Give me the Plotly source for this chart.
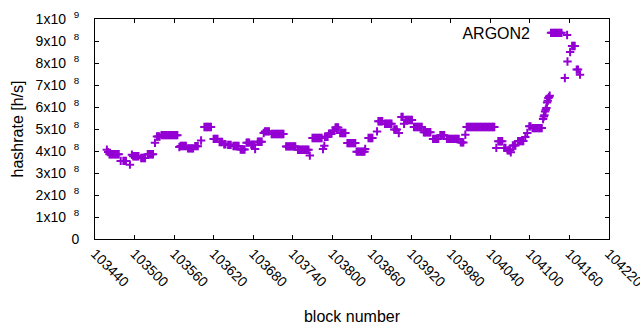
import plotly.graph_objects as go

# block numbers and hashrate (units of 1e8 h/s)
blocks = [
    103458, 103460,
    103462, 103464, 103466, 103468, 103470, 103472, 103474, 103476,
    103479, 103483, 103485, 103487, 103493, 103496,
    103498, 103500, 103502, 103504, 103506,
    103510, 103512, 103514, 103516,
    103520, 103522, 103524, 103526, 103528,
    103531, 103534, 103536, 103538,
    103541, 103543, 103545, 103547, 103549, 103551, 103553, 103555, 103557, 103559, 103561, 103563, 103565,
    103568, 103570, 103572, 103574, 103576, 103578,
    103581, 103583, 103585, 103587, 103589,
    103592, 103594, 103596, 103601,
    103606, 103608, 103610, 103612, 103614, 103616,
    103620, 103622, 103624, 103626,
    103629, 103631, 103633, 103636, 103638,
    103642, 103644, 103646,
    103650, 103652, 103654, 103656, 103658,
    103661, 103663, 103665, 103667,
    103670, 103672, 103674,
    103677, 103679, 103681, 103683,
    103687, 103689, 103691, 103693,
    103696, 103698, 103700, 103702, 103704,
    103708, 103710, 103712, 103714, 103716, 103718, 103720, 103722, 103724, 103726,
    103730, 103732, 103734, 103736, 103738, 103740, 103742, 103744,
    103748, 103750, 103752, 103754, 103756, 103758, 103760, 103762, 103764, 103766,
    103770, 103772, 103774, 103776, 103778, 103780, 103782, 103784,
    103786, 103788, 103789, 103791, 103793,
    103795, 103797, 103799, 103801, 103803,
    103805, 103807, 103809,
    103812, 103814, 103816, 103818, 103820,
    103823, 103825, 103827, 103829, 103831, 103833, 103835,
    103837, 103839, 103841, 103843, 103845, 103847, 103849,
    103850, 103855, 103857, 103859, 103861, 103868,
    103870, 103872, 103874, 103876,
    103880, 103882, 103884, 103886, 103888, 103890,
    103894, 103896, 103898, 103901,
    103905, 103907, 103909,
    103911, 103913, 103915, 103917, 103919, 103921,
    103924, 103926, 103928, 103930, 103932, 103934, 103936,
    103939, 103941, 103943, 103945, 103947, 103949,
    103953, 103955, 103957, 103959, 103961,
    103964, 103966, 103968, 103970,
    103974, 103976, 103978, 103980, 103982, 103984, 103986, 103988, 103990, 103992,
    103995, 103997, 103999, 104002,
    104004, 104006, 104008, 104010, 104012, 104014, 104016, 104018, 104020, 104022, 104024,
    104026, 104028, 104030, 104032, 104034, 104036, 104038, 104040, 104042, 104044, 104046,
    104049, 104052, 104054, 104056, 104058, 104061, 104063,
    104066, 104068, 104070, 104071,
    104074, 104076, 104078, 104082, 104084, 104086, 104088, 104090,
    104093, 104096, 104099, 104101,
    104104, 104106, 104108, 104110, 104112, 104114, 104116, 104118,
    104120, 104121, 104122, 104123, 104124, 104125, 104126, 104127, 104128, 104129, 104130,
    104132, 104134, 104136, 104138, 104140, 104142, 104144, 104146, 104148,
    104153, 104157, 104161, 104164, 104166, 104168, 104171, 104173, 104176,
]
hashrate_1e8 = [
    4.06, 3.95,
    3.85, 3.85, 3.85, 3.85, 3.85, 3.85, 3.85, 3.85,
    3.55, 3.55, 3.55, 3.55, 3.38, 3.83,
    3.76, 3.76, 3.76, 3.76, 3.76,
    3.68, 3.68, 3.68, 3.68,
    3.85, 3.85, 3.85, 3.85, 3.85,
    4.37, 4.66, 4.66, 4.66,
    4.72, 4.72, 4.72, 4.72, 4.72, 4.72, 4.72, 4.72, 4.72, 4.72, 4.72, 4.72, 4.72,
    4.18, 4.23, 4.23, 4.23, 4.23, 4.23,
    4.12, 4.12, 4.12, 4.12, 4.12,
    4.22, 4.22, 4.22, 4.48,
    5.09, 5.09, 5.09, 5.09, 5.09, 5.09,
    4.55, 4.55, 4.55, 4.55,
    4.41, 4.41, 4.41, 4.31, 4.31,
    4.28, 4.28, 4.28,
    4.23, 4.23, 4.23, 4.23, 4.23,
    4.07, 4.07, 4.07, 4.07,
    4.38, 4.38, 4.38,
    4.29, 4.29, 4.29, 4.09,
    4.42, 4.42, 4.42, 4.42,
    4.82, 4.89, 4.89, 4.89, 4.89,
    4.77, 4.77, 4.77, 4.77, 4.77, 4.77, 4.77, 4.77, 4.77, 4.77,
    4.21, 4.21, 4.21, 4.21, 4.21, 4.21, 4.21, 4.21,
    4.06, 4.06, 4.06, 4.06, 4.06, 4.06, 4.06, 4.06, 4.06, 3.79,
    4.59, 4.59, 4.59, 4.59, 4.59, 4.59, 4.59, 4.59,
    4.09, 4.24, 4.65, 4.65, 4.65,
    4.79, 4.79, 4.79, 4.92, 4.92,
    5.07, 5.07, 5.07,
    4.82, 4.82, 4.82, 4.82, 4.82,
    4.36, 4.36, 4.36, 4.36, 4.36, 4.36, 4.36,
    3.97, 3.97, 3.97, 3.97, 3.97, 3.97, 3.97,
    4.09, 4.59, 4.59, 4.59, 4.59, 4.89,
    5.35, 5.35, 5.35, 5.35,
    5.24, 5.24, 5.24, 5.24, 5.24, 5.24,
    4.98, 4.98, 4.98, 4.82,
    5.55, 5.55, 5.24,
    5.41, 5.41, 5.41, 5.41, 5.41, 5.41,
    5.09, 5.09, 5.09, 5.09, 5.09, 5.09, 5.09,
    4.85, 4.85, 4.85, 4.85, 4.85, 4.85,
    4.55, 4.55, 4.55, 4.55, 4.55,
    4.72, 4.72, 4.72, 4.72,
    4.55, 4.55, 4.55, 4.55, 4.55, 4.55, 4.55, 4.55, 4.55, 4.55,
    4.39, 4.39, 4.39, 4.74,
    5.09, 5.09, 5.09, 5.09, 5.09, 5.09, 5.09, 5.09, 5.09, 5.09, 5.09,
    5.09, 5.09, 5.09, 5.09, 5.09, 5.09, 5.09, 5.09, 5.09, 5.09, 5.09,
    4.14, 4.44, 4.44, 4.44, 4.44, 4.14, 4.14,
    4.03, 4.03, 4.03, 3.94,
    4.25, 4.25, 4.25, 4.45, 4.45, 4.45, 4.45, 4.45,
    4.64, 4.82, 5.12, 5.12,
    5.04, 5.04, 5.04, 5.04, 5.04, 5.04, 5.04, 5.04,
    5.45, 5.57, 5.62, 5.80, 5.88, 5.95, 6.20, 6.28, 6.41, 6.45, 6.51,
    9.37, 9.37, 9.37, 9.37, 9.37, 9.37, 9.37, 9.37, 9.37,
    7.32, 8.07, 8.50, 8.77, 8.77, 8.77, 7.70, 7.70, 7.47,
]
hashrate = [v * 1e8 for v in hashrate_1e8]

x_ticks = list(range(103440, 104221, 60))
y_ticks = [i * 1e8 for i in range(11)]
y_ticktext = (["0"] + [f"{i}x10&nbsp;&nbsp;<sup>8</sup>" for i in range(1, 10)]
              + ["1x10&nbsp;&nbsp;<sup>9</sup>"])

FONT = "Liberation Sans, Arial, sans-serif"
COLOR = "#9400D3"

fig = go.Figure()
fig.add_trace(go.Scatter(
    x=blocks, y=hashrate, mode="markers", name=" ",
    marker=dict(symbol="cross-thin", size=6, color=COLOR,
                line=dict(color=COLOR, width=2)),
    showlegend=True,
))

fig.update_layout(
    width=640, height=330,
    margin=dict(l=95, r=31, t=19, b=91),
    paper_bgcolor="white", plot_bgcolor="white",
    font=dict(family=FONT, size=16, color="black"),
    showlegend=True,
    legend=dict(
        x=0.9775, y=1.004, xanchor="right", yanchor="top",
        bgcolor="rgba(0,0,0,0)", indentation=9,
        title=dict(text="ARGON2", side="left", font=dict(size=16)),
        font=dict(size=16),
    ),
    xaxis=dict(
        range=[103440, 104220], tickmode="array", tickvals=x_ticks,
        ticktext=[str(t) for t in x_ticks], tickangle=45,
        ticks="inside", ticklen=4, tickcolor="black",
        showline=True, linecolor="black", linewidth=1, mirror="ticks",
        showgrid=False, zeroline=False, automargin=False,
        tickfont=dict(size=14), ticklabeloverflow="allow",
        title=dict(text="block number", font=dict(size=16), standoff=21),
    ),
    yaxis=dict(
        range=[0, 1e9], tickmode="array", tickvals=y_ticks, ticktext=y_ticktext,
        ticks="inside", ticklen=4, tickcolor="black",
        showline=True, linecolor="black", linewidth=1, mirror="ticks",
        showgrid=False, zeroline=False, automargin=False,
        tickfont=dict(size=14), ticklabelstandoff=12,
        title=dict(text="hashrate [h/s]", font=dict(size=16), standoff=8),
    ),
)

fig.write_html("out.html", config={"displayModeBar": False},
               post_script="document.body.style.margin='0px';")
